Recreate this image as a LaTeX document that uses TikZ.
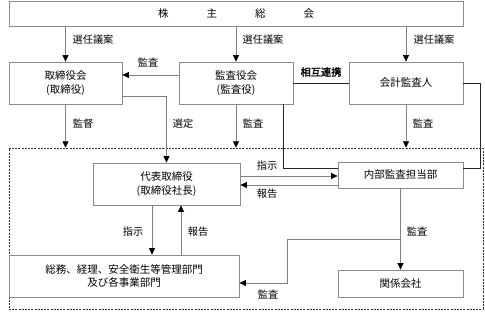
\documentclass[tikz,border=0pt]{standalone}
\usepackage{fontspec}
\setmainfont{Noto Sans CJK JP}[AutoFakeBold=2]
\usetikzlibrary{arrows.meta,calc}
\tikzset{
  box/.style={draw=black!45, line width=0.8pt, fill=white, inner sep=0pt,
              align=center, font=\fontsize{10.5}{13.5}\selectfont},
  grp/.style={draw=black!80, line width=0.5pt, dash pattern=on 2pt off 1.2pt,
              inner sep=0pt},
  arr/.style={draw=black!50, line width=0.8pt,
              -{Triangle[length=6.5pt, width=6pt, color=black]}},
  link/.style={draw=black!85, line width=0.8pt},
  lbl/.style={font=\fontsize{10.2}{12}\selectfont, inner sep=1pt}
}

\begin{document}
\begin{tikzpicture}[x=1pt,y=-1pt]
  \useasboundingbox (0,0) rectangle (485,311);

  % Group outline round the executive side.
  \node[grp, minimum width=474pt, minimum height=161pt] (grp) at (246,228.5) {};

  % Boxes.
  \node[box, minimum width=454pt, minimum height=25pt] (sh) at (236,13.5)
    {株\hspace{38pt}主\hspace{38pt}総\hspace{38pt}会};
  \node[box, minimum width=113pt, minimum height=42pt] (bd) at (65.5,83)
    {取締役会\\(取締役)};
  \node[box, minimum width=114pt, minimum height=42pt] (ka) at (236,83)
    {監査役会\\(監査役)};
  \node[box, minimum width=114pt, minimum height=42pt] (ca) at (406,83)
    {会計監査人};
  \node[box, minimum width=147pt, minimum height=42pt] (rep) at (166.5,184)
    {代表取締役\\(取締役社長)};
  \node[box, minimum width=125pt, minimum height=26pt] (ia) at (400.5,175)
    {内部監査担当部};
  \node[box, minimum width=230pt, minimum height=42pt] (gen) at (124,276)
    {総務、経理、安全衛生等管理部門\\及び各事業部門};
  \node[box, minimum width=125pt, minimum height=27pt] (sub) at (400.5,283.5)
    {関係会社};

  % Nominations from the shareholders' meeting.
  \draw[arr] (sh.south -| bd.north) -- (bd.north);
  \draw[arr] (sh.south -| ka.north) -- (ka.north);
  \draw[arr] (sh.south -| ca.north) -- (ca.north);
  \node[lbl] (l1) at (93,40) {選任議案};
  \node[lbl] (l2) at (263,40) {選任議案};
  \node[lbl] (l3) at (434,40) {選任議案};

  % Second row links.
  \draw[arr] ([yshift=8pt]ka.west) -- ([yshift=8pt]bd.east);
  \node[lbl] (l4) at (148,63) {監査};
  \draw[link] (ka.east) -- (ca.west);
  \node[lbl, font=\fontsize{10.2}{12}\selectfont\bfseries] (l5) at (321,72) {相互連携};

  % Down into the group.
  \draw[arr] (bd.south) -- (bd.south |- grp.north);
  \node[lbl] (l6) at (83,124) {監督};
  \draw[arr] ([yshift=-13pt]bd.east) -| (rep.north);
  \node[lbl] (l7) at (183,124) {選定};
  \draw[arr] (ka.south) -- (ka.south |- grp.north);
  \node[lbl] (l8) at (253,124) {監査};
  \draw[arr] (ca.south) -- (ca.south |- grp.north);
  \node[lbl] (l9) at (423,124) {監査};
  \draw[link] ([xshift=47pt]ka.south) |- ([yshift=7pt]ia.west);
  \draw[link] (ca.east) -- ++(17,0) |- ([yshift=7pt]ia.east);

  % Inside the group.
  \draw[arr] ([yshift=8pt]rep.east) -- ([yshift=8pt]rep.east -| ia.west);
  \node[lbl] (l10) at (267,166) {指示};
  \draw[arr] ([yshift=-10pt]ia.west) -- ([yshift=-10pt]ia.west -| rep.east);
  \node[lbl] (l11) at (267,194) {報告};
  \draw[arr] ([xshift=-14.5pt]rep.south) -- ([xshift=-14.5pt]rep.south |- gen.north);
  \node[lbl] (l12) at (133,232) {指示};
  \draw[arr] ([xshift=14.5pt]rep.south |- gen.north) -- ([xshift=14.5pt]rep.south);
  \node[lbl] (l13) at (198,232) {報告};
  \draw[arr] (ia.south) -- (sub.north);
  \node[lbl] (l14) at (417,232) {監査};
  \coordinate (br) at (ia.south |- 0,239);
  \draw[arr] (br) -- ++(-113.5,0) |- ([yshift=-7pt]gen.east);
  \node[lbl] (l15) at (268,295) {監査};
\end{tikzpicture}
\end{document}
